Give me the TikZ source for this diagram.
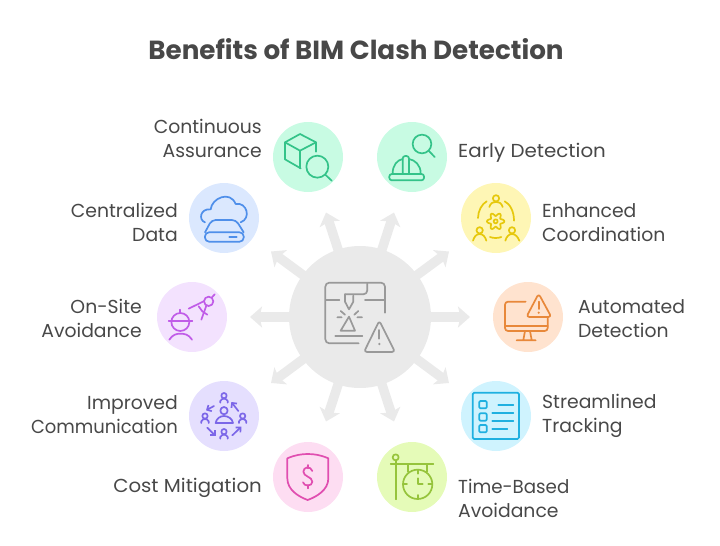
\documentclass[tikz,border=0pt]{standalone}
\usepackage{fontspec}
\setmainfont{Poppins}
\usetikzlibrary{arrows.meta}
\definecolor{txt}{HTML}{484848}
\definecolor{hubc}{HTML}{EAEAEA}
\definecolor{hubi}{HTML}{999999}
\definecolor{mint}{HTML}{C8FBE3}\definecolor{minti}{HTML}{34C389}
\definecolor{blu}{HTML}{DBE8FE}\definecolor{blui}{HTML}{4F8FEA}
\definecolor{pur}{HTML}{F3E2FE}\definecolor{puri}{HTML}{C05CE8}
\definecolor{lav}{HTML}{E5DFFE}\definecolor{lavi}{HTML}{7C67E8}
\definecolor{pnk}{HTML}{FDDDF2}\definecolor{pnki}{HTML}{E04EB0}
\definecolor{yel}{HTML}{FEF6B5}\definecolor{yeli}{HTML}{E6C80C}
\definecolor{org}{HTML}{FFE3CF}\definecolor{orgi}{HTML}{E8883A}
\definecolor{cya}{HTML}{CFF3FE}\definecolor{cyai}{HTML}{1FB0E0}
\definecolor{lim}{HTML}{E5FBB8}\definecolor{limi}{HTML}{96C43C}
\tikzset{
  disc/.style={circle,inner sep=0pt,minimum size=70pt,fill=#1},
  lbl/.style={inner sep=0pt,text=txt,font=\fontsize{18.8}{24}\selectfont},
  lblr/.style={lbl,anchor=east,align=right},
  lbll/.style={lbl,anchor=west,align=left},
  ray/.style={draw=hubc,line width=9.5pt,-{Stealth[width=21pt,length=12pt,inset=2.5pt]}},
  ico/.style={draw=#1,line width=1.7pt,line cap=round,line join=round},
  tiny/.style={-{Straight Barb[length=3.5pt,width=7pt]}}
}
\begin{document}
\begin{tikzpicture}[x=1pt,y=-1pt]
\path[use as bounding box] (0,0) rectangle (720,546);
\node[inner sep=0pt,text=txt,font=\fontsize{26.2}{30}\selectfont\bfseries] (title) at (356,49.5) {Benefits of BIM Clash Detection};
\node[circle,inner sep=0pt,minimum size=142pt,fill=hubc] (hub) at (360,317) {};
\coordinate (t1) at (394,212.5);\coordinate (t2) at (449,251.5);\coordinate (t3) at (470,317);
\coordinate (t4) at (449,383);\coordinate (t5) at (394,421.5);\coordinate (t6) at (326,421.5);
\coordinate (t7) at (271,383);\coordinate (t8) at (250,317);\coordinate (t9) at (271,251.5);
\coordinate (t10) at (326,212.5);
\foreach \k in {1,...,10}{\draw[ray] (hub.center) -- (t\k);}
\node[disc=mint] (cont) at (308,157) {};
\node[disc=mint] (early) at (412,157) {};
\node[disc=yel] (enh) at (496,218) {};
\node[disc=org] (auto) at (528,317) {};
\node[disc=cya] (stream) at (496,416) {};
\node[disc=lim] (time) at (412,477) {};
\node[disc=pnk] (cost) at (308,477) {};
\node[disc=lav] (impr) at (224,416) {};
\node[disc=pur] (onsite) at (192,317) {};
\node[disc=blu] (cent) at (224,218) {};
\node[lblr] (l1) at (262,138) {Continuous\\Assurance};
\node[lbll] (l2) at (458,153) {\scalebox{1.055}[1]{Early Detection}};
\node[lbll] (l3) at (542,223) {Enhanced\\Coordination};
\node[lbll] (l4) at (578,319) {Automated\\Detection};
\node[lbll] (l5) at (542,416) {Streamlined\\Tracking};
\node[lbll] (l6) at (458,498) {\scalebox{.97}[1]{Time-Based}\\Avoidance};
\node[lblr] (l7) at (262,488) {\scalebox{1.05}[1]{Cost Mitigation}};
\node[lblr] (l8) at (178,415) {Improved\\\scalebox{.955}[1]{Communication}};
\node[lblr] (l9) at (142,318) {On-Site\\Avoidance};
\node[lblr] (l10) at (178,222) {Centralized\\Data};
% hub icon
\begin{scope}[shift={(250,200)},scale=1/3,ico=hubi]
\draw[rounded corners=4pt] (405,338) -- (405,248) -- (226,248) -- (226,430) -- (326,430);
\draw[rounded corners=4pt] (352,250) -- (352,283) -- (285,283);
\draw (285,283) -- (285,305) -- (297,328) -- (310,305) -- (310,287);
\draw (228,300) -- (268,300) (345,300) -- (405,300);
\draw (272,333) -- (285,344) (325,333) -- (313,344) (262,352) -- (275,352) (322,352) -- (336,352);
\draw (297,350) -- (272,392) -- (315,392) -- cycle;
\draw (256,409) -- (337,409);
\draw[rounded corners=3pt] (388,362) -- (342,456) -- (435,456) -- cycle;
\draw (388,390) -- (388,416);
\fill[hubi] (388,432) circle (4);
\end{scope}
% continuous assurance, early detection
\begin{scope}[shift={(260,110)},scale=1/3,ico=minti]
\draw (168,125) -- (168,97) -- (120,72) -- (75,97) -- (75,148) -- (122,175);
\draw (75,97) -- (120,122) -- (168,97) (120,122) -- (120,175);
\draw (172,170) circle (33);
\draw (197,195) -- (215,212);
\draw (486,102) circle (28);
\draw (506,122) -- (524,141);
\draw[rounded corners=2.5pt] (388,192) rectangle (492,211);
\draw (398,190) .. controls (398,165) and (412,150) .. (428,147);
\draw (447,147) .. controls (465,150) and (482,165) .. (482,190);
\draw[rounded corners=2.5pt] (428,190) -- (428,138) -- (447,138) -- (447,190);
\end{scope}
% enhanced coordination
\begin{scope}[shift={(456,178)},scale=1/3,ico=yeli]
\draw (120,61) circle (9.5);
\draw (100,87) .. controls (103,76) and (110,72) .. (120,72) .. controls (130,72) and (137,76) .. (140,87);
\draw (71,157) circle (9.5);
\draw (51,188) .. controls (54,177) and (61,168) .. (71,168) .. controls (81,168) and (88,177) .. (91,188);
\draw (168,157) circle (9.5);
\draw (148,188) .. controls (151,177) and (158,168) .. (168,168) .. controls (178,168) and (186,177) .. (190,188);
\draw (92,70) .. controls (78,78) and (66,98) .. (66,120);
\draw (146,70) .. controls (162,78) and (174,100) .. (174,128);
\draw (102,177) .. controls (112,181) and (126,181) .. (136,177);
\draw plot[domain=0:360,samples=73,smooth] ({119+(21+5*cos(6*\x))*cos(\x)},{130+(21+5*cos(6*\x))*sin(\x)}) -- cycle;
\draw (119,130) circle (6);
\end{scope}
% automated detection
\begin{scope}[shift={(485,275)},scale=1/3,ico=orgi]
\draw[rounded corners=3pt] (122,80) -- (60,80) -- (60,168) -- (188,168) -- (188,130);
\draw (60,152) -- (188,152);
\draw (120,168) -- (115,195) (135,168) -- (140,195) (95,196) -- (152,196);
\draw[rounded corners=3pt] (161,56) -- (124,126) -- (199,126) -- cycle;
\draw (161,80) -- (161,102);
\fill[orgi] (161,113) circle (3.5);
\end{scope}
% streamlined tracking, time-based avoidance
\begin{scope}[shift={(370,375)},scale=1/3,ico=cyai]
\draw[rounded corners=1.5pt] (308,53) rectangle (447,192);
\draw[rounded corners=1pt] (328,78) rectangle (350,100) (328,115) rectangle (350,137) (328,150) rectangle (350,172);
\draw (385,90) -- (430,90) (367,113) -- (430,113) (367,137) -- (430,137) (367,161) -- (412,161);
\end{scope}
\begin{scope}[shift={(370,375)},scale=1/3,ico=limi]
\draw (77,247) circle (9);
\draw (77,256) -- (77,373) (62,268) -- (190,268) (115,268) -- (115,290) (170,268) -- (170,290);
\draw (143,328) circle (44);
\draw (143,284) -- (143,296) (143,360) -- (143,372) (99,328) -- (111,328) (175,328) -- (187,328);
\draw (143,310) -- (143,328) -- (158,328);
\end{scope}
% cost mitigation
\begin{scope}[shift={(180,375)},scale=1/3,ico=pnki]
\draw (322,250) .. controls (345,240) and (365,237) .. (383,237) .. controls (402,237) and (422,240) .. (445,250) -- (445,310) .. controls (445,345) and (410,365) .. (383,375) .. controls (356,365) and (322,345) .. (322,310) -- cycle;
\draw (397,288) .. controls (392,272) and (370,275) .. (370,290) .. controls (370,305) and (397,305) .. (397,320) .. controls (397,335) and (372,335) .. (369,322);
\draw (383,270) -- (383,280) (383,330) -- (383,340);
\end{scope}
% improved communication
\begin{scope}[shift={(184,376)},scale=1/3,ico=lavi]
\draw (120,104) circle (11);
\draw (95,141) .. controls (97,128) and (108,120) .. (120,120) .. controls (132,120) and (145,128) .. (147,141) -- cycle;
\foreach \a/\b in {120/59,63/120,176/120,120/167}{
  \draw (\a,\b) circle (8);
  \draw ({\a-11},{\b+21}) -- ({\a-11},{\b+16}) .. controls ({\a-9},{\b+11}) and ({\a-4},{\b+9}) .. (\a,{\b+9}) .. controls ({\a+4},{\b+9}) and ({\a+9},{\b+11}) .. ({\a+11},{\b+16}) -- ({\a+11},{\b+21});
}
\draw[tiny] (90,90) -- (66,103);
\draw[tiny] (163,105) -- (142,78);
\draw[tiny] (70,155) -- (95,180);
\draw[tiny] (145,178) -- (172,152);
\end{scope}
% on-site avoidance
\begin{scope}[shift={(152,277)},scale=1/3,ico=puri]
\draw (85,135) circle (27);
\draw (50,133) -- (121,133) (85,98) -- (85,108);
\draw (52,188) .. controls (62,172) and (75,170) .. (85,170) .. controls (97,170) and (110,172) .. (120,188);
\draw (170,73) circle (14);
\draw (179,62) -- (188,52);
\draw (110,95) -- (157,72);
\draw (163,86) -- (148,128);
\draw (140,88) -- (151,103) -- (166,113);
\end{scope}
% centralized data
\begin{scope}[shift={(150,170)},scale=1/3,ico=blui]
\draw (165,157) .. controls (145,150) and (150,115) .. (182,118) .. controls (185,85) and (240,60) .. (257,102) .. controls (290,95) and (305,145) .. (272,157);
\draw[rounded corners=4pt] (165,187) -- (185,150) -- (258,150) -- (281,187);
\draw[rounded corners=4pt] (165,187) rectangle (281,215);
\draw (238,202) -- (260,202);
\end{scope}
\end{tikzpicture}
\end{document}
